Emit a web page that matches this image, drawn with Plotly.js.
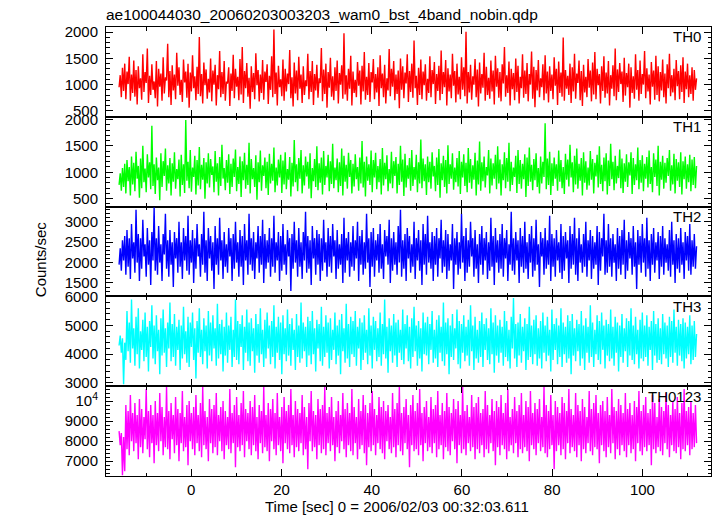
<!DOCTYPE html>
<html>
<head>
<meta charset="utf-8">
<script src="https://cdn.plot.ly/plotly-3.0.1.min.js"></script>
<style>html,body{margin:0;padding:0;background:#fff;}#chart{width:717px;height:516px;}</style>
</head>
<body>
<div id="chart"></div>
<script>
// Time span of the light curve (seconds from 2006/02/03 00:32:03.611)
const timeStart = -16;
const timeEnd = 112;

const panelNames = ["TH0", "TH1", "TH2", "TH3", "TH0123"];
const panelColors = ["#ff0000", "#00ff00", "#0000ff", "#00ffff", "#ff00ff"];

const th0 = [
950, 1180, 760, 1320, 880, 1400, 720, 1250, 1010, 1530, 690, 1190, 840, 1460, 770, 1280,
620, 1350, 930, 1120, 710, 1580, 860, 1240, 1030, 1690, 650, 1170, 800, 1390, 900, 1060,
740, 1450, 580, 1300, 960, 1210, 690, 1520, 830, 1140, 1080, 1780, 760, 1260, 610, 1370,
890, 1190, 720, 1610, 980, 1330, 800, 1090, 670, 1480, 1040, 1250, 750, 1400, 560, 1230,
870, 1560, 930, 1160, 700, 1340, 820, 1910, 780, 1200, 640, 1420, 990, 1290, 730, 1110,
850, 1500, 680, 1270, 1000, 1380, 600, 1180, 910, 1640, 760, 1240, 820, 1450, 690, 1060,
1020, 1330, 590, 1210, 880, 1570, 740, 1300, 960, 1150, 700, 1490, 810, 1720, 650, 1260,
930, 1410, 770, 1130, 540, 1350, 860, 1220, 720, 1600, 990, 1280, 680, 1190, 840, 1470,
710, 1250, 1050, 1390, 630, 1170, 900, 1540, 760, 2050, 820, 1230, 600, 1360, 950, 1100,
780, 1480, 690, 1300, 870, 1210, 1010, 1660, 740, 1140, 580, 1420, 830, 1270, 700, 1530,
920, 1190, 650, 1350, 800, 1080, 970, 1590, 720, 1260, 860, 1450, 610, 1200, 890, 1380,
750, 1120, 1030, 1700, 680, 1290, 820, 1400, 560, 1240, 940, 1510, 770, 1160, 700, 1330,
880, 1460, 640, 1220, 1000, 1370, 730, 1980, 810, 1180, 690, 1300, 920, 1550, 600, 1250,
840, 1090, 760, 1430, 980, 1270, 620, 1360, 870, 1620, 710, 1150, 800, 1410, 670, 1240,
1040, 1490, 720, 1200, 850, 1330, 590, 1560, 930, 1210, 760, 1380, 640, 1120, 890, 1680,
780, 1300, 960, 1450, 700, 1190, 820, 1270, 550, 1500, 900, 1350, 740, 1230, 1020, 1580,
670, 1260, 860, 1400, 750, 1840, 930, 1170, 610, 1320, 800, 1480, 720, 1250, 990, 1390,
690, 1110, 840, 1540, 760, 1280, 1010, 1430, 630, 1200, 880, 1360, 700, 1650, 820, 1240,
950, 1470, 600, 1310, 870, 1190, 740, 1590, 980, 1260, 660, 1400, 810, 1150, 720, 1520,
900, 1330, 780, 2010, 640, 1240, 850, 1380, 710, 1160, 1000, 1490, 760, 1290, 580, 1420,
830, 1200, 940, 1610, 690, 1340, 800, 1130, 730, 1460, 870, 1270, 620, 1550, 960, 1310,
750, 1240, 680, 1390, 1020, 1720, 770, 1180, 840, 1440, 600, 1300, 910, 1220, 700, 1500,
860, 1360, 640, 1150, 930, 1580, 750, 1270, 820, 1410, 680, 1200, 1000, 1630, 730, 1340,
570, 1280, 890, 1470, 760, 1120, 950, 1390, 700, 1560, 830, 1250, 660, 1350, 880, 1190,
720, 1520, 980, 1300, 610, 1440, 840, 1230, 770, 1900, 690, 1280, 920, 1170, 800, 1400,
650, 1330, 870, 1590, 730, 1210, 1030, 1460, 700, 1260, 590, 1380, 850, 1150, 760, 1490,
940, 1270, 680, 1420, 810, 1620, 720, 1300, 990, 1200, 640, 1350, 880, 1540, 750, 1230,
830, 1450, 600, 1180, 920, 1370, 780, 1690, 700, 1290, 860, 1410, 1010, 1250, 670, 1510,
790, 1220, 950, 1400, 560, 1330, 840, 1160, 730, 1580, 900, 1280, 690, 1460, 820, 1200,
1000, 1640, 740, 1310, 870, 1190, 620, 1430, 960, 1270, 710, 1550, 800, 1350, 680, 1240,
890, 1480, 760, 1210, 640, 1390, 930, 1590, 780, 1180, 850, 1300, 700, 1470, 970, 1260,
720, 1370, 860, 1520, 650, 1250, 910, 1400, 760, 1180, 820, 1330, 690, 1280, 900, 1120];

const th1 = [
760, 980, 650, 1080, 720, 1160, 600, 1230, 830, 1100, 560, 1300, 770, 1180, 640, 1390,
880, 1120, 520, 1260, 700, 1500, 810, 1070, 620, 1340, 900, 1190, 680, 1880, 740, 1150,
590, 1280, 850, 1090, 470, 1360, 720, 1210, 930, 1450, 650, 1130, 790, 1270, 560, 1170,
820, 1380, 690, 1060, 870, 1240, 540, 1330, 760, 1150, 610, 1990, 840, 1200, 700, 1420,
630, 1090, 910, 1310, 580, 1230, 750, 1480, 680, 1140, 860, 1270, 500, 1190, 790, 1360,
710, 1250, 950, 1110, 620, 1400, 820, 1170, 560, 1290, 740, 1520, 880, 1080, 660, 1230,
800, 1340, 590, 1160, 720, 1260, 910, 1430, 640, 1100, 780, 1300, 530, 1210, 850, 1370,
690, 1140, 760, 1560, 600, 1250, 870, 1080, 720, 1320, 480, 1190, 810, 1410, 650, 1130,
930, 1280, 700, 1200, 570, 1350, 790, 1160, 840, 1470, 620, 1090, 750, 1240, 900, 1330,
610, 1220, 770, 1380, 680, 1060, 860, 1290, 540, 1180, 730, 1610, 810, 1150, 640, 1270,
880, 1420, 600, 1130, 750, 1300, 920, 1200, 690, 1360, 510, 1080, 830, 1250, 720, 1490,
660, 1170, 800, 1280, 580, 1400, 760, 1120, 900, 1330, 640, 1210, 780, 1540, 700, 1090,
850, 1260, 620, 1190, 740, 1450, 560, 1310, 820, 1140, 690, 1370, 910, 1230, 600, 1160,
730, 1340, 870, 1100, 650, 1280, 790, 1590, 710, 1200, 540, 1300, 840, 1150, 760, 1410,
620, 1230, 900, 1370, 680, 1120, 810, 1250, 580, 1460, 750, 1180, 870, 1320, 640, 1060,
790, 1390, 700, 1210, 930, 1290, 600, 1160, 760, 1500, 820, 1240, 550, 1350, 710, 1130,
880, 1270, 650, 1420, 740, 1100, 860, 1330, 620, 1190, 790, 1620, 700, 1260, 830, 1150,
570, 1300, 810, 1200, 690, 1380, 920, 1120, 640, 1280, 760, 1440, 520, 1170, 850, 1310,
720, 1230, 600, 1510, 780, 1150, 880, 1360, 670, 1090, 810, 1270, 730, 1400, 590, 1200,
900, 1340, 740, 1180, 620, 1460, 800, 1250, 690, 1130, 860, 1370, 560, 1220, 770, 1580,
650, 1190, 830, 1300, 710, 1100, 940, 1420, 600, 1260, 750, 1170, 880, 1330, 680, 1490,
790, 1240, 560, 1150, 850, 1380, 700, 1270, 820, 1560, 640, 1200, 760, 1090, 910, 1310,
610, 1420, 780, 1230, 690, 1160, 870, 1340, 530, 1280, 740, 1470, 820, 1140, 660, 1250,
850, 1360, 720, 1080, 600, 1300, 790, 1200, 910, 1930, 680, 1260, 760, 1390, 570, 1170,
740, 1280, 880, 1150, 650, 1410, 820, 1230, 700, 1100, 590, 1350, 860, 1240, 730, 1520,
900, 1190, 620, 1310, 770, 1450, 690, 1160, 840, 1270, 560, 1380, 800, 1210, 670, 1090,
750, 1400, 860, 1250, 600, 1180, 920, 1330, 710, 1490, 780, 1140, 640, 1280, 830, 1360,
580, 1220, 740, 1540, 870, 1200, 660, 1310, 790, 1120, 890, 1430, 700, 1260, 610, 1170,
820, 1340, 720, 1190, 940, 1380, 590, 1270, 760, 1150, 850, 1470, 680, 1230, 800, 1320,
640, 1160, 880, 1290, 710, 1410, 780, 1100, 620, 1360, 910, 1240, 740, 1500, 560, 1200,
860, 1310, 690, 1180, 800, 1270, 930, 1420, 650, 1130, 770, 1350, 600, 1250, 840, 1190,
720, 1380, 580, 1210, 870, 1300, 690, 1150, 810, 1330, 640, 1240, 760, 1290, 700, 1120];

const th2 = [
1950, 2350, 1800, 2550, 2050, 2650, 1700, 2800, 1900, 2600, 1600, 2950, 2100, 2500, 1750, 3300,
2000, 2700, 1550, 2600, 1850, 3050, 2150, 2450, 1650, 2850, 1950, 2550, 1450, 2750, 2050, 3350,
1800, 2600, 1700, 2900, 2000, 2450, 1550, 2700, 2200, 3200, 1850, 2550, 1650, 2800, 1950, 2500,
1400, 2750, 2100, 2600, 1750, 3000, 1900, 2500, 1600, 2850, 2050, 2650, 1800, 3150, 1700, 2550,
2000, 2800, 1500, 2600, 1850, 2950, 2150, 2450, 1650, 2700, 1950, 3250, 1750, 2550, 1550, 2850,
2100, 2650, 1800, 2500, 1350, 2900, 1950, 2600, 1700, 3100, 2050, 2550, 1600, 2750, 1900, 2450,
1750, 2850, 2150, 2600, 1550, 2700, 1850, 3000, 2000, 2500, 1650, 2800, 1900, 2650, 1450, 2950,
2050, 2550, 1700, 3200, 1950, 2600, 1800, 2750, 1600, 2500, 2100, 2900, 1750, 2650, 1950, 3050,
1500, 2700, 1850, 2550, 2000, 2850, 1650, 2600, 1900, 3150, 1750, 2500, 2050, 2750, 1550, 2650,
1800, 2950, 1950, 2450, 1700, 2800, 2150, 2600, 1300, 2700, 1850, 3000, 2000, 2550, 1650, 2850,
1900, 2500, 1600, 2750, 2050, 3250, 1750, 2650, 1850, 2550, 1450, 2900, 2100, 2600, 1700, 2800,
1950, 2700, 1550, 2600, 1800, 3050, 2000, 2500, 1650, 2850, 1900, 2650, 1750, 2950, 2150, 2550,
1600, 2800, 1850, 2450, 1950, 2700, 1500, 3100, 1750, 2600, 2050, 2750, 1650, 2500, 1900, 2900,
1800, 2550, 2100, 3000, 1550, 2650, 1950, 2800, 1700, 2500, 1850, 3200, 2000, 2600, 1400, 2750,
1900, 2850, 1650, 2550, 2050, 2700, 1750, 2950, 1850, 2450, 1600, 2800, 2150, 2650, 1950, 3050,
1500, 2600, 1800, 2750, 1950, 2500, 1700, 2900, 2000, 3300, 1650, 2550, 1850, 2700, 1550, 2850,
2100, 2650, 1750, 2450, 1900, 3000, 1600, 2600, 2050, 2800, 1800, 2550, 1450, 2950, 1950, 2700,
1700, 3150, 2000, 2500, 1850, 2750, 1550, 2650, 1950, 2850, 1650, 2600, 2100, 3050, 1750, 2550,
1900, 2800, 1600, 2700, 1800, 2450, 2050, 2950, 1350, 2600, 1950, 2750, 1700, 2500, 1850, 3200,
2000, 2650, 1550, 2850, 1750, 2550, 1900, 3000, 2150, 2600, 1650, 2800, 1850, 2450, 1500, 2700,
1950, 2900, 1700, 2600, 2050, 2750, 1600, 2500, 1800, 3100, 1900, 2650, 1450, 2850, 2000, 2550,
1750, 2700, 1850, 2950, 1650, 2600, 2100, 2800, 1550, 2450, 1950, 3250, 1800, 2600, 1700, 2750,
2050, 2550, 1500, 2850, 1900, 2650, 1750, 3000, 1850, 2500, 1600, 2700, 2000, 2900, 1650, 2600,
1800, 3050, 1950, 2450, 1400, 2750, 2150, 2600, 1700, 2850, 1850, 2550, 1950, 3150, 1550, 2700,
1900, 2600, 1650, 2800, 2050, 2500, 1750, 2950, 1600, 2650, 1800, 2750, 2100, 2550, 1500, 2900,
1850, 2700, 1950, 3100, 1700, 2600, 1550, 2850, 2000, 2450, 1750, 2700, 1900, 3000, 1650, 2550,
2050, 2800, 1600, 2650, 1850, 2500, 1950, 2900, 1450, 2750, 1800, 2600, 2150, 3200, 1700, 2550,
1750, 2950, 1900, 2600, 1650, 2700, 2000, 2450, 1550, 2850, 1850, 2650, 1700, 2800, 1950, 3050,
1600, 2550, 1800, 2750, 2100, 2600, 1700, 2900, 1900, 2500, 1350, 2800, 1950, 2650, 1750, 2950,
2000, 2600, 1650, 3100, 1850, 2550, 1550, 2700, 1950, 2850, 1750, 2500, 2050, 2750, 1600, 2650,
1900, 2900, 1700, 2600, 2000, 2450, 1800, 2800, 1650, 3000, 1950, 2550, 1500, 2700, 1850, 2600,
1750, 2850, 1950, 2500, 1600, 2750, 2050, 2650, 1800, 2950, 1700, 2550, 1900, 2700, 1850, 2400];

const th3 = [
4300, 4650, 4050, 4550, 2950, 4400, 3800, 5500, 4100, 5100, 3700, 5900, 4200, 4900, 3600, 5300,
4000, 5600, 3500, 4800, 4150, 5200, 3750, 5450, 3900, 4950, 3400, 5150, 4250, 5700, 3850, 5000,
3650, 5350, 4100, 4850, 3300, 5250, 3950, 5550, 4050, 4900, 3550, 5100, 4200, 5800, 3750, 5050,
3900, 5400, 3600, 4950, 4150, 5200, 3450, 5000, 3850, 5650, 4000, 4800, 3700, 5300, 3550, 5100,
4250, 5450, 3800, 4900, 3150, 5150, 4050, 5600, 3900, 4850, 3650, 5250, 4100, 5000, 3500, 5500,
3950, 5100, 3750, 5350, 4200, 4900, 3600, 5750, 3850, 5050, 4000, 5200, 3400, 4950, 3950, 5450,
3700, 5000, 4150, 5300, 3550, 4850, 3900, 5900, 3800, 5150, 3650, 5050, 4250, 5350, 3450, 4950,
4050, 5550, 3750, 5100, 3600, 5250, 4100, 4900, 3350, 5400, 3950, 5050, 3700, 5600, 4000, 4850,
3550, 5200, 3850, 5450, 4200, 5000, 3650, 5150, 3900, 5700, 3500, 4950, 4050, 5300, 3800, 5100,
3300, 5350, 4000, 4900, 3750, 5550, 3950, 5050, 3600, 5250, 4150, 4850, 3450, 5400, 3900, 5000,
3700, 5800, 3850, 5100, 4100, 4950, 3550, 5300, 3950, 5150, 3650, 5500, 4000, 4900, 3400, 5200,
4200, 5050, 3750, 5650, 3600, 4950, 3900, 5350, 4050, 5100, 3500, 5250, 3800, 4850, 4150, 5450,
3650, 5000, 3950, 5200, 3300, 5400, 4100, 4900, 3700, 5750, 3850, 5050, 3550, 5300, 4000, 5150,
3900, 5500, 3600, 4950, 4200, 5250, 3450, 5100, 3800, 5350, 4050, 4850, 3650, 5600, 3950, 5000,
3500, 5300, 4150, 5150, 3750, 4900, 3900, 5450, 3600, 5050, 4000, 5900, 3850, 4950, 3350, 5250,
4100, 5000, 3700, 5400, 3950, 5100, 3550, 5200, 4050, 4850, 3800, 5550, 3650, 5050, 4200, 5350,
3750, 4950, 3500, 5250, 3900, 5650, 4100, 5000, 3600, 5150, 3850, 4900, 3400, 5450, 4000, 5100,
3950, 5300, 3650, 5050, 4150, 5500, 3700, 4850, 3850, 5200, 3550, 5350, 4050, 4950, 3750, 5800,
3600, 5100, 4000, 5250, 3300, 5000, 3900, 5400, 3800, 4900, 4200, 5550, 3650, 5150, 3500, 5050,
4050, 5350, 3750, 4950, 3950, 5200, 3600, 5700, 4100, 5000, 3450, 5300, 3850, 4850, 3700, 5150,
3900, 5450, 3550, 5050, 4150, 5250, 3800, 4900, 3650, 5600, 4000, 5100, 3350, 5350, 3950, 5000,
3700, 5200, 4050, 4950, 3600, 5500, 3900, 5150, 3750, 4850, 3500, 5300, 4200, 5950, 3850, 5050,
3550, 5100, 3950, 5400, 3700, 4950, 4100, 5250, 3450, 5050, 3800, 5650, 3900, 5000, 3650, 5200,
4000, 5350, 3600, 4900, 3850, 5150, 3500, 5450, 4050, 5000, 3750, 5300, 3950, 4850, 3400, 5550,
3800, 5050, 4150, 5250, 3650, 5000, 3900, 5600, 3550, 5100, 4000, 4950, 3700, 5350, 3850, 5150,
3300, 5400, 3950, 4900, 3750, 5200, 4100, 5050, 3600, 5500, 3850, 5000, 3450, 5250, 4050, 4950,
3700, 5700, 3900, 5100, 3550, 4850, 4000, 5350, 3800, 5150, 3650, 5450, 4150, 5000, 3500, 5200,
3950, 5050, 3750, 5550, 3850, 4950, 3600, 5300, 4050, 5100, 3400, 5000, 3900, 5400, 3700, 4900,
4100, 5250, 3550, 5150, 3950, 5600, 3800, 5000, 3650, 5300, 4000, 4850, 3500, 5200, 3850, 5450,
3750, 5000, 3900, 5350, 3600, 4950, 4150, 5150, 3450, 5500, 3950, 5050, 3700, 5250, 3800, 4900,
3650, 5400, 4000, 5100, 3850, 5000, 3550, 5300, 3900, 5150, 3700, 5550, 4050, 4950, 3600, 5200,
3950, 5050, 3750, 5250, 3500, 5100, 3850, 4950, 4000, 5350, 3650, 5000, 3800, 5150, 3900, 4700];

const th0123 = [
8500, 7800, 8400, 6300, 8200, 6500, 9800, 7600, 9500, 7300, 10300, 8000, 9400, 7500, 9900, 7900,
9300, 7100, 10100, 7700, 9600, 7400, 9200, 8100, 10600, 7600, 9500, 7200, 9800, 7900, 9300, 6900,
10000, 7800, 9400, 7500, 10400, 8000, 9700, 7300, 9200, 7700, 10700, 7600, 9500, 7100, 9900, 8100,
9300, 7400, 10200, 7800, 9600, 7000, 9400, 7900, 10500, 7500, 9200, 7700, 9800, 6800, 10000, 8000,
9400, 7600, 9700, 7300, 10300, 7900, 9300, 7500, 9900, 7200, 10700, 7800, 9500, 7600, 9200, 7000,
10100, 7900, 9600, 7400, 9800, 7700, 10400, 7300, 9300, 8000, 9700, 7500, 10000, 7100, 9500, 7800,
9200, 7600, 10600, 7400, 9400, 7900, 9800, 6700, 10200, 7700, 9300, 7500, 9900, 7800, 10500, 7200,
9600, 8000, 9400, 7600, 10000, 7300, 9700, 7800, 10300, 7500, 9200, 7100, 9800, 7900, 9500, 7400,
10700, 7700, 9300, 7500, 9900, 7000, 9600, 8000, 10100, 7600, 9400, 7300, 10400, 7800, 9200, 7500,
9700, 6900, 10200, 7900, 9500, 7600, 9800, 7400, 10600, 7800, 9300, 7200, 10000, 7700, 9600, 7500,
9400, 7900, 10300, 7300, 9700, 7600, 9200, 6600, 9900, 8000, 10500, 7500, 9500, 7700, 9300, 7100,
10100, 7800, 9600, 7400, 9800, 7600, 10700, 7300, 9400, 7900, 9700, 7500, 10200, 7800, 9200, 7000,
9500, 7700, 10000, 7400, 9300, 8000, 10400, 7600, 9600, 7200, 9900, 7800, 9400, 7500, 10600, 7300,
9700, 7900, 9200, 7100, 10100, 7600, 9500, 7800, 10300, 7400, 9800, 6800, 9400, 7700, 9900, 7500,
10500, 7800, 9600, 7300, 9300, 7900, 10200, 7600, 9700, 7400, 10000, 7100, 9500, 8000, 9800, 7600,
9200, 7400, 10400, 7700, 9600, 7200, 9900, 7800, 10700, 7500, 9400, 7300, 9700, 7900, 10100, 7600,
9300, 6700, 9800, 7800, 10300, 7500, 9500, 7600, 9900, 7300, 10600, 7800, 9400, 7000, 9700, 7900,
10000, 7500, 9200, 7700, 10200, 7400, 9600, 7900, 9800, 7200, 10500, 7600, 9300, 7800, 9900, 7100,
9500, 7700, 10400, 7500, 9700, 7300, 9400, 8000, 10100, 7600, 9600, 6900, 10000, 7800, 9300, 7400,
10700, 7600, 9500, 7300, 9800, 7900, 9200, 7500, 10300, 7700, 9700, 7100, 9900, 7600, 10200, 7400,
9400, 7800, 9600, 7200, 10500, 7600, 9800, 7400, 9300, 7900, 10100, 7500, 9500, 6800, 10000, 7700,
9700, 7300, 10300, 7800, 9400, 7600, 9900, 7100, 10600, 7500, 9200, 7800, 9600, 7400, 10200, 7900,
9500, 7200, 9800, 7600, 10400, 7400, 9300, 7700, 10000, 7500, 9700, 7000, 10500, 7800, 9400, 7600,
9900, 7300, 9600, 7900, 10100, 7500, 9200, 7700, 10700, 7400, 9800, 7200, 9500, 7600, 10300, 7800,
9300, 6600, 10000, 7500, 9700, 7800, 9400, 7300, 10200, 7600, 9900, 7100, 9500, 7900, 10600, 7400,
9600, 7700, 9300, 7500, 10400, 7200, 9800, 7800, 9500, 7000, 10100, 7600, 9700, 7400, 9200, 7900,
10500, 7500, 9600, 7300, 9900, 7700, 10300, 7600, 9400, 6900, 9800, 7800, 10000, 7500, 9500, 7200,
10200, 7700, 9300, 7400, 10600, 7900, 9700, 7100, 9500, 7600, 10100, 7300, 9800, 7800, 9400, 7500,
10400, 7200, 9600, 7800, 9900, 7400, 9300, 7600, 10000, 7000, 9700, 7900, 10500, 7500, 9500, 7300,
9800, 7700, 10200, 7500, 9400, 7800, 9600, 6800, 10300, 7600, 9900, 7400, 9200, 7700, 10100, 7500,
9700, 7300, 9500, 7900, 10400, 7600, 9800, 7200, 9300, 7800, 10000, 7500, 9600, 7400, 10200, 7700,
9400, 7100, 9900, 7600, 10600, 7500, 9500, 7800, 9700, 7300, 10000, 7600, 9400, 7700, 9800, 7900];

const series = [th0, th1, th2, th3, th0123];

// Axis ranges and tick labels per panel
const yRanges = [[385, 2100], [350, 2050], [1170, 3375], [2885, 6010], [6260, 10740]];
const yTickVals = [[500, 1000, 1500, 2000], [500, 1000, 1500, 2000], [1500, 2000, 2500, 3000], [3000, 4000, 5000, 6000], [7000, 8000, 9000, 10000]];
const yTickText = [["500", "1000", "1500", "2000"], ["500", "1000", "1500", "2000"], ["1500", "2000", "2500", "3000"], ["3000", "4000", "5000", "6000"], ["7000", "8000", "9000", "10<sup>4</sup>"]];
const yMinorStep = [100, 100, 100, 200, 200];
const xRange = [-18.9, 115.2];
const xTickVals = [0, 20, 40, 60, 80, 100];

const chartTitle = "ae100044030_20060203003203_wam0_bst_4band_nobin.qdp";
const xTitle = "Time [sec] 0 = 2006/02/03 00:32:03.611";
const yTitle = "Counts/sec";

const FONT = "Liberation Sans, Arial, Helvetica, sans-serif";
const n = 5;
const traces = [];
const layout = {
  width: 717, height: 516,
  margin: {l: 106, r: 6, t: 27, b: 40},
  paper_bgcolor: "#ffffff", plot_bgcolor: "#ffffff",
  showlegend: false,
  font: {family: FONT, size: 15, color: "#000"},
  title: {text: chartTitle, x: 0, xref: "paper", xanchor: "left", y: 1 - 15/516, yref: "container", yanchor: "middle", font: {family: FONT, size: 15.5, color: "#000"}},
  annotations: []
};

for (let k = 0; k < n; k++) {
  const vals = series[k];
  const m = vals.length;
  const t = vals.map((_, i) => timeStart + i * (timeEnd - timeStart) / (m - 1));
  const sfx = k === 0 ? "" : String(k + 1);
  traces.push({
    type: "scatter", mode: "lines", x: t, y: vals,
    xaxis: "x" + sfx, yaxis: "y" + sfx,
    line: {color: panelColors[k], width: 1.4},
    hoverinfo: "skip"
  });
  const top = 1 - k * 0.2, bot = 1 - (k + 1) * 0.2;
  layout["yaxis" + sfx] = {
    domain: [bot, top], range: yRanges[k], anchor: "x" + sfx,
    tickmode: "array", tickvals: yTickVals[k], ticktext: yTickText[k],
    ticks: "inside", ticklen: 7, tickwidth: 1, tickcolor: "#000",
    minor: {dtick: yMinorStep[k], ticks: "inside", ticklen: 3.5, tickwidth: 1, tickcolor: "#000", showgrid: false},
    showline: true, linecolor: "#000", linewidth: 1, mirror: "allticks",
    showgrid: false, zeroline: false, ticklabelstandoff: 4,
    tickfont: {family: FONT, size: 15, color: "#000"}
  };
  layout["xaxis" + sfx] = {
    domain: [0, 1], range: xRange, anchor: "y" + sfx,
    tickmode: "array", tickvals: xTickVals,
    ticks: "inside", ticklen: 7, tickwidth: 1, tickcolor: "#000",
    minor: {dtick: 10, tick0: 0, ticks: "inside", ticklen: 3.5, tickwidth: 1, tickcolor: "#000", showgrid: false},
    showline: true, linecolor: "#000", linewidth: 1, mirror: "allticks",
    showgrid: false, zeroline: false,
    showticklabels: k === n - 1,
    tickfont: {family: FONT, size: 15, color: "#000"}
  };
  if (k > 0) layout["xaxis" + sfx].matches = "x";
  layout.annotations.push({
    text: panelNames[k], xref: "paper", yref: "paper",
    x: 0.986, y: top - 0.022, xanchor: "right", yanchor: "middle",
    showarrow: false, font: {family: FONT, size: 15, color: "#000"}
  });
}

layout.annotations.push({
  text: xTitle, xref: "paper", yref: "paper", x: 0.481, y: -0.069,
  xanchor: "center", yanchor: "middle", showarrow: false,
  font: {family: FONT, size: 15, color: "#000"}
});
layout.annotations.push({
  text: yTitle, xref: "paper", yref: "paper", x: -0.109, y: 0.483,
  xanchor: "center", yanchor: "middle", textangle: -90, showarrow: false,
  font: {family: FONT, size: 15, color: "#000"}
});

Plotly.newPlot("chart", traces, layout, {staticPlot: true, displayModeBar: false});
</script>
</body>
</html>
